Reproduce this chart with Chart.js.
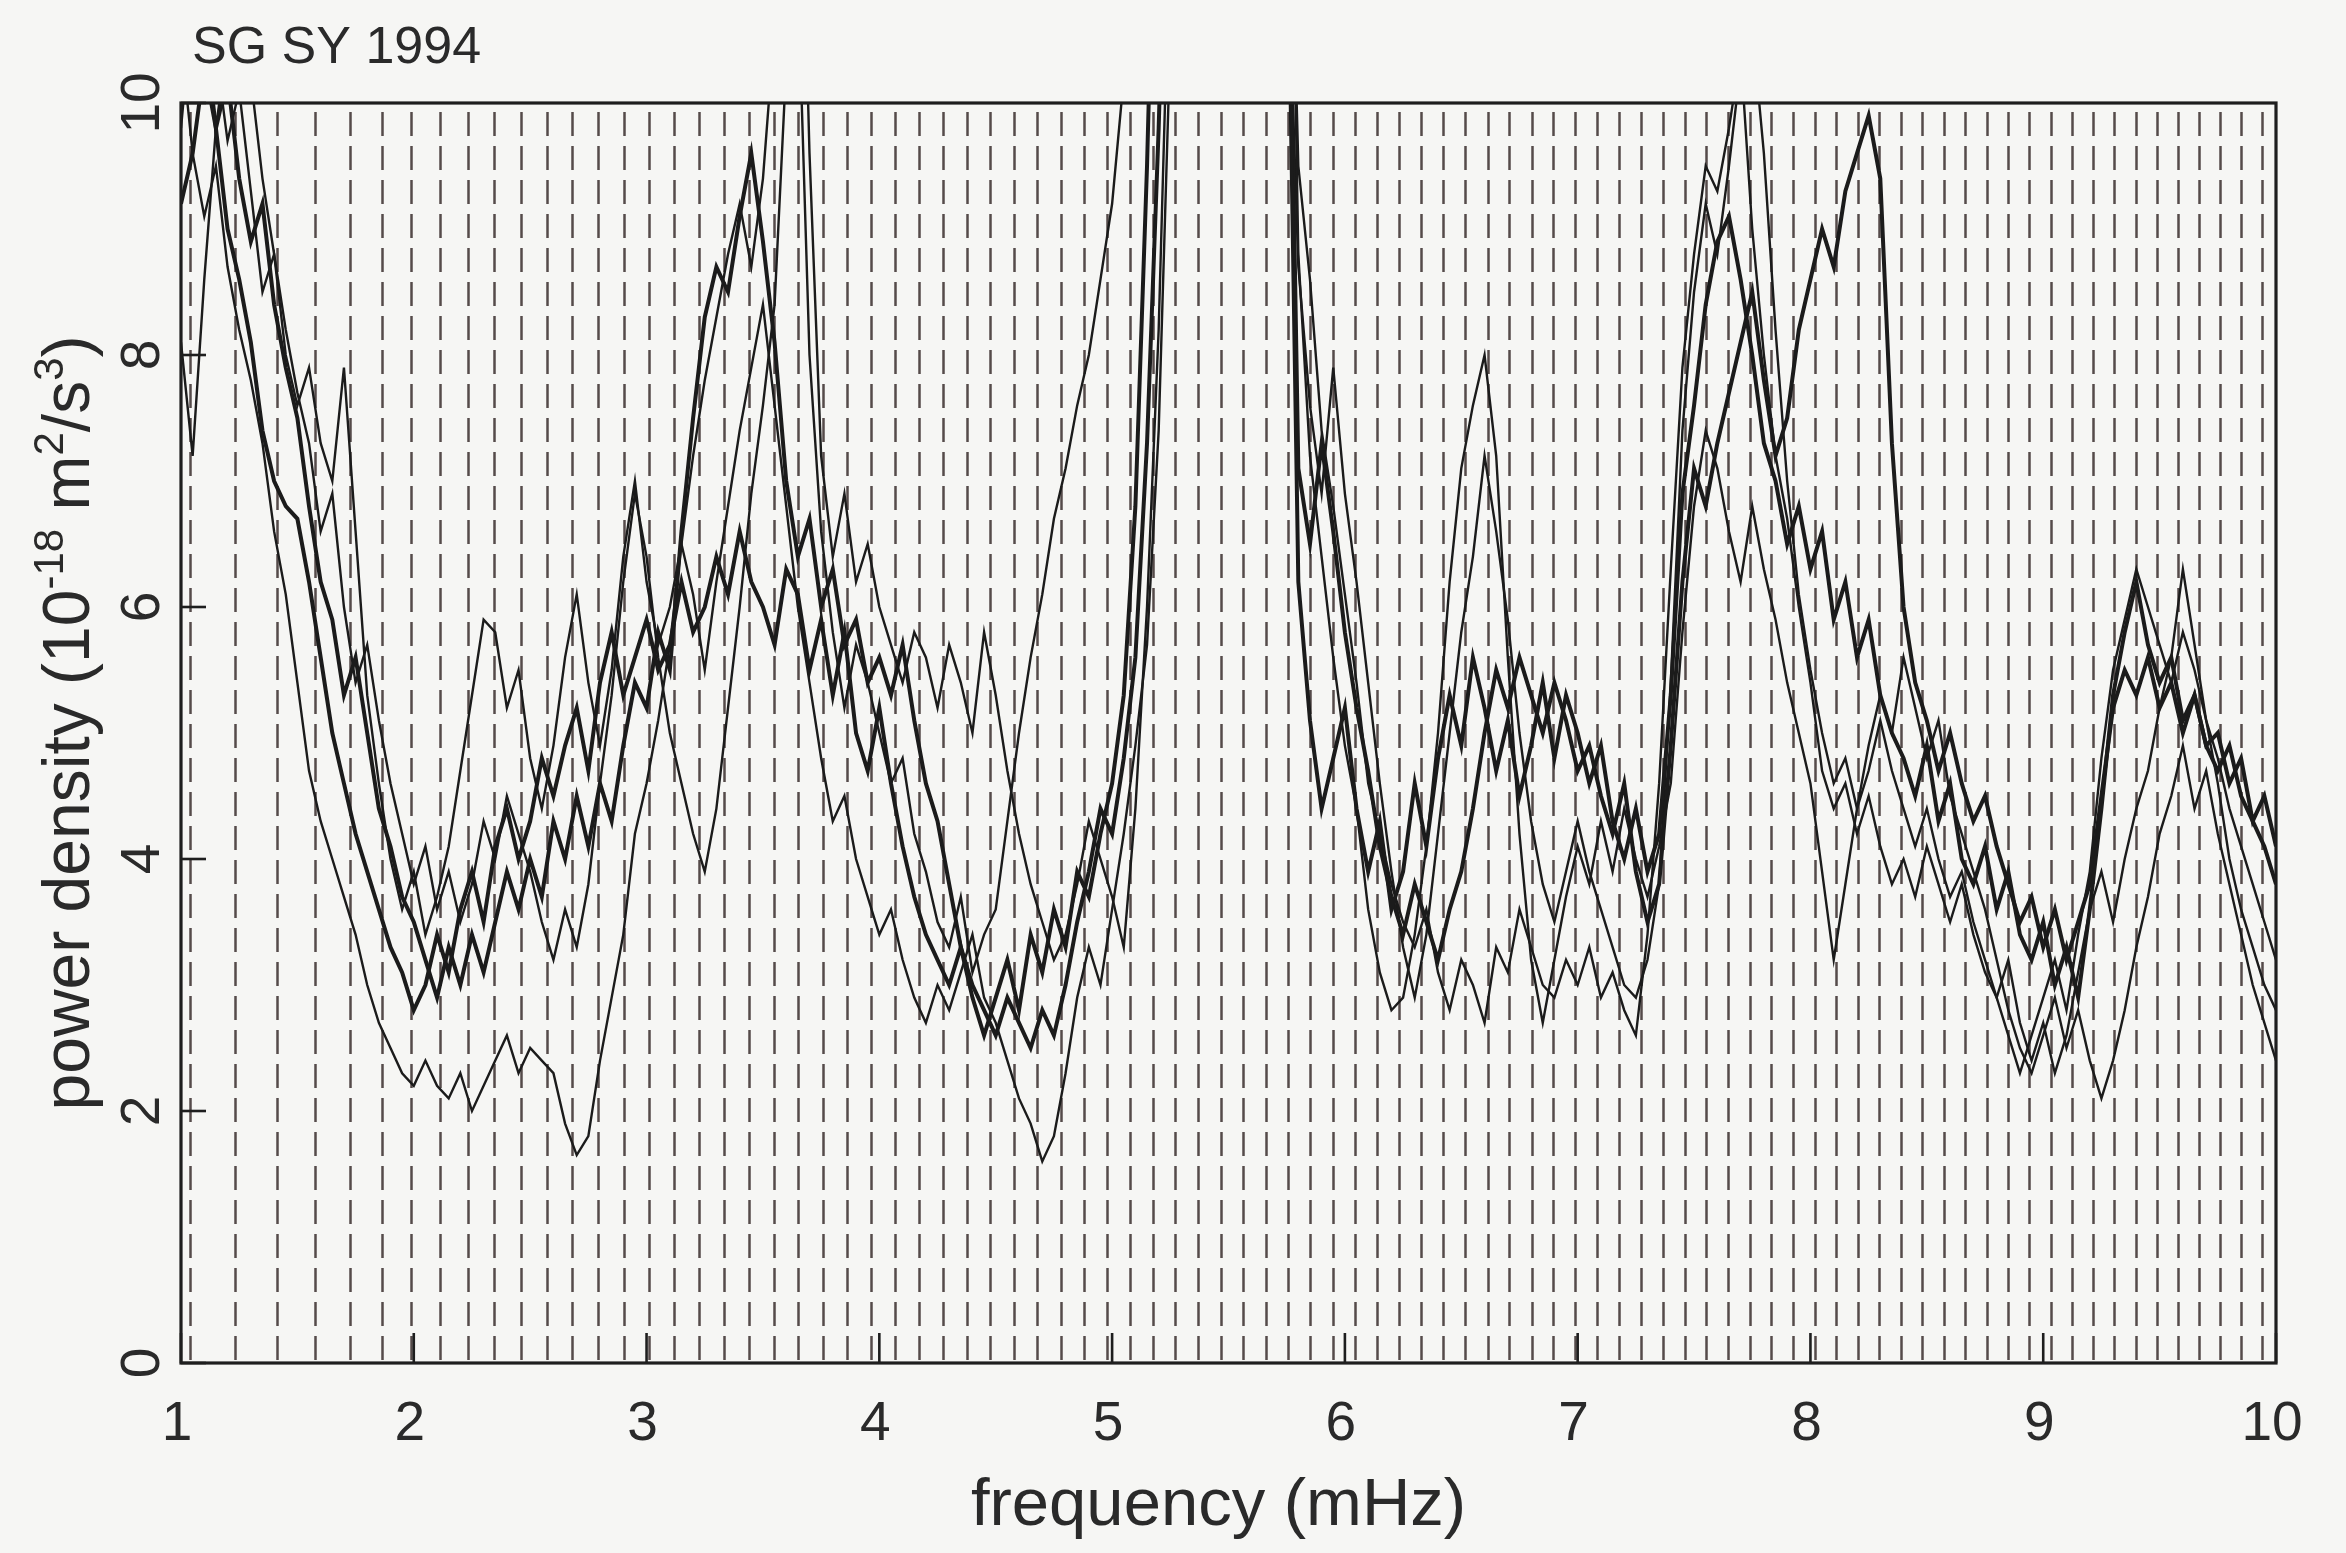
<!DOCTYPE html>
<html>
<head>
<meta charset="utf-8">
<script src="https://cdn.jsdelivr.net/npm/chart.js@4.4.1/dist/chart.umd.min.js"></script>
<style>
html,body{margin:0;padding:0;background:#f6f6f4;}
canvas{display:block;}
</style>
</head>
<body>
<canvas id="c" width="2346" height="1553"></canvas>
<script>
const chartTitle = "SG SY 1994";
const xTitle = "frequency (mHz)";
const xTicks = [1,2,3,4,5,6,7,8,9,10];
const yTicks = [0,2,4,6,8,10];

const freqs = [
1.00,1.05,1.10,1.15,1.20,1.25,1.30,1.35,1.40,1.45,
1.50,1.55,1.60,1.65,1.70,1.75,1.80,1.85,1.90,1.95,
2.00,2.05,2.10,2.15,2.20,2.25,2.30,2.35,2.40,2.45,
2.50,2.55,2.60,2.65,2.70,2.75,2.80,2.85,2.90,2.95,
3.00,3.05,3.10,3.15,3.20,3.25,3.30,3.35,3.40,3.45,
3.50,3.55,3.60,3.65,3.70,3.75,3.80,3.85,3.90,3.95,
4.00,4.05,4.10,4.15,4.20,4.25,4.30,4.35,4.40,4.45,
4.50,4.55,4.60,4.65,4.70,4.75,4.80,4.85,4.90,4.95,
5.00,5.05,5.10,5.15,5.20,5.25,5.30,5.35,5.40,5.45,
5.50,5.55,5.60,5.65,5.70,5.75,5.80,5.85,5.90,5.95,
6.00,6.05,6.10,6.15,6.20,6.25,6.30,6.35,6.40,6.45,
6.50,6.55,6.60,6.65,6.70,6.75,6.80,6.85,6.90,6.95,
7.00,7.05,7.10,7.15,7.20,7.25,7.30,7.35,7.40,7.45,
7.50,7.55,7.60,7.65,7.70,7.75,7.80,7.85,7.90,7.95,
8.00,8.05,8.10,8.15,8.20,8.25,8.30,8.35,8.40,8.45,
8.50,8.55,8.60,8.65,8.70,8.75,8.80,8.85,8.90,8.95,
9.00,9.05,9.10,9.15,9.20,9.25,9.30,9.35,9.40,9.45,
9.50,9.55,9.60,9.65,9.70,9.75,9.80,9.85,9.90,9.95,
10.00];

const seriesA = [
9.2,9.6,10.3,9.8,9.0,8.6,8.1,7.4,7.0,6.8,
6.7,6.2,5.6,5.0,4.6,4.2,3.9,3.6,3.3,3.1,
2.8,3.0,3.4,3.1,3.6,3.9,3.5,4.1,4.4,4.0,
4.3,4.8,4.5,4.9,5.2,4.7,5.4,5.8,5.3,5.6,
5.9,5.5,5.7,6.2,5.8,6.0,6.4,6.1,6.6,6.2,
6.0,5.7,6.3,6.1,5.5,5.9,5.3,5.8,5.0,4.7,
5.2,4.6,4.1,3.7,3.4,3.2,3.0,3.3,2.9,2.6,
2.9,3.2,2.8,3.4,3.1,3.6,3.3,3.9,3.7,4.2,
4.6,5.3,6.8,9.5,13,15,15,15,15,15,
15,15,15,15,15,12,6.2,5.1,4.4,4.8,
5.2,4.4,3.9,4.3,3.6,3.9,4.6,4.1,4.8,5.3,
4.9,5.6,5.2,4.7,5.1,4.5,4.9,5.4,4.8,5.3,
5.0,4.6,4.9,4.3,4.0,4.4,3.9,4.2,5.3,6.9,
7.6,8.4,8.9,9.1,8.6,8.0,7.3,7.0,6.5,6.8,
6.3,6.6,5.9,6.2,5.6,5.9,5.3,5.0,4.8,4.5,
4.9,4.3,4.6,4.0,3.8,4.1,3.6,3.9,3.4,3.2,
3.5,3.0,3.3,2.9,3.6,4.4,5.3,5.8,6.2,5.7,
5.4,5.6,5.1,5.3,4.9,5.0,4.6,4.8,4.3,4.5,
4.1];

const seriesB = [
8.1,7.2,8.6,9.8,10.5,11,10.2,9.4,8.8,8.0,
7.6,7.9,7.3,7.0,7.9,6.6,5.3,4.6,4.0,3.6,
3.9,3.4,3.7,4.1,4.7,5.3,5.9,5.8,5.2,5.5,
4.8,4.4,4.9,5.6,6.1,5.4,4.9,5.5,6.4,7.0,
6.2,5.7,6.0,6.5,7.2,7.8,8.3,8.8,9.2,8.7,
9.4,10.6,13,11,8.0,6.6,5.8,5.2,5.7,5.4,
5.0,4.6,4.8,4.2,3.9,3.5,3.3,3.7,3.1,3.4,
3.6,4.3,5.0,5.6,6.1,6.7,7.1,7.6,8.0,8.6,
9.2,10.2,12,14,15,15,15,15,15,15,
15,15,15,15,15,13,9.5,8.6,7.4,6.8,
6.1,5.4,4.6,4.2,3.8,3.5,3.3,3.6,3.1,2.8,
3.2,3.0,2.7,3.3,3.1,3.6,3.3,3.0,2.9,3.2,
3.0,3.3,2.9,3.1,2.8,2.6,3.4,4.6,6.3,7.9,
8.8,9.5,9.3,9.8,10.4,9.0,8.0,7.2,6.7,6.0,
5.4,4.7,4.4,4.6,4.2,4.5,4.1,3.8,4.0,3.7,
4.1,3.8,3.5,3.8,3.4,3.1,2.9,3.2,2.7,2.4,
2.7,2.3,2.6,3.1,3.6,3.9,3.5,4.0,4.4,4.7,
5.2,5.6,6.3,5.7,5.1,4.6,4.0,3.6,3.3,3.0,
2.8];

const seriesC = [
10.5,9.6,9.1,9.5,8.7,8.2,7.8,7.3,6.6,6.1,
5.4,4.7,4.3,4.0,3.7,3.4,3.0,2.7,2.5,2.3,
2.2,2.4,2.2,2.1,2.3,2.0,2.2,2.4,2.6,2.3,
2.5,2.4,2.3,1.9,1.65,1.8,2.4,2.9,3.4,4.2,
4.6,5.1,5.7,6.5,6.1,5.5,6.2,6.8,7.4,7.9,
8.4,7.6,6.8,6.0,5.4,4.8,4.3,4.5,4.0,3.7,
3.4,3.6,3.2,2.9,2.7,3.0,2.8,3.1,3.4,2.9,
2.7,2.4,2.1,1.9,1.6,1.8,2.3,2.9,3.3,3.0,
3.6,4.2,4.9,5.7,7.4,10.5,14,15,15,15,
15,15,15,15,15,14,8.8,7.2,6.4,5.6,
4.9,4.4,3.6,3.1,2.8,2.9,3.4,4.1,5.0,6.2,
7.1,7.6,8.0,7.2,5.6,4.2,3.2,2.7,3.2,3.7,
4.1,3.8,4.3,3.9,4.4,4.0,3.7,4.1,4.6,5.8,
6.8,7.4,7.1,6.6,6.2,6.8,6.3,5.9,5.4,5.0,
4.6,3.9,3.2,3.8,4.4,4.9,5.3,5.0,5.6,5.2,
4.8,5.1,4.5,4.2,3.9,3.6,3.2,2.8,2.5,2.3,
2.6,2.9,2.5,2.8,2.4,2.1,2.4,2.8,3.3,3.7,
4.2,4.5,4.9,4.4,4.7,4.2,3.8,3.4,3.0,2.7,
2.4];

const seriesD = [
11,12,10.6,9.8,10.2,9.4,8.9,9.2,8.4,7.9,
7.5,6.8,6.2,5.9,5.3,5.6,5.0,4.4,4.1,3.7,
3.5,3.2,2.9,3.3,3.0,3.4,3.1,3.5,3.9,3.6,
4.0,3.7,4.3,4.0,4.5,4.1,4.6,4.3,4.9,5.4,
5.2,5.8,5.5,6.6,7.5,8.3,8.7,8.5,9.1,9.6,
8.9,8.1,7.0,6.4,6.7,6.0,6.3,5.7,5.9,5.4,
5.6,5.3,5.7,5.1,4.6,4.3,3.8,3.3,3.0,2.8,
2.6,2.9,2.7,2.5,2.8,2.6,3.0,3.5,3.9,4.4,
4.2,4.8,5.6,7.3,9.8,13,15,15,15,15,
15,15,15,15,15,12.5,7.1,6.5,7.3,6.6,
5.8,5.2,4.7,4.1,3.7,3.4,3.8,3.5,3.2,3.6,
3.9,4.4,5.0,5.5,5.2,5.6,5.3,5.0,5.4,5.1,
4.7,4.9,4.5,4.2,4.6,3.9,3.5,3.8,4.9,6.2,
7.1,6.8,7.3,7.7,8.1,8.5,7.8,7.2,7.5,8.2,
8.6,9.0,8.7,9.3,9.6,9.9,9.4,7.3,6.0,5.4,
5.1,4.7,5.0,4.6,4.3,4.5,4.1,3.8,3.5,3.7,
3.3,3.6,3.2,3.5,3.8,4.5,5.2,5.5,5.3,5.6,
5.2,5.4,5.0,5.3,4.9,4.7,4.9,4.5,4.3,4.1,
3.8];

const seriesE = [
9.8,10.8,11.5,10.4,9.7,10.1,9.3,8.5,8.8,8.2,
7.7,7.3,6.6,6.9,6.0,5.4,5.7,5.1,4.6,4.2,
3.8,4.1,3.6,3.9,3.5,3.8,4.3,4.0,4.5,4.2,
3.9,3.5,3.2,3.6,3.3,3.8,4.6,5.3,6.2,6.9,
6.4,5.6,5.0,4.6,4.2,3.9,4.4,5.2,6.0,6.9,
7.6,8.4,10.3,13,9.6,7.2,6.4,6.9,6.2,6.5,
6.0,5.7,5.4,5.8,5.6,5.2,5.7,5.4,5.0,5.8,
5.3,4.7,4.2,3.8,3.5,3.2,3.4,3.8,4.3,4.0,
3.7,3.3,4.4,6.0,8.2,11.5,15,15,15,15,
15,15,15,15,15,11.5,8.7,7.6,6.9,7.9,
6.9,6.2,5.4,4.6,3.9,3.3,2.9,3.4,4.2,5.0,
5.8,6.4,7.2,6.6,5.9,5.0,4.3,3.8,3.5,3.9,
4.3,3.9,3.6,3.3,3.0,2.9,3.2,3.8,5.4,7.4,
8.5,9.2,8.8,9.5,10.3,10.6,9.6,8.2,7.0,6.1,
5.5,5.0,4.6,4.8,4.4,4.7,5.1,4.7,4.4,4.1,
4.4,4.0,3.7,3.9,3.5,3.2,2.9,2.6,2.3,2.6,
2.9,3.2,2.8,3.4,3.9,4.8,5.5,5.9,6.3,6.0,
5.7,5.4,5.8,5.5,5.1,4.8,4.4,4.1,3.8,3.5,
3.2];

// fundamental-mode frequencies marked by the dashed lines (mHz)
const modeFreqs = [1.038,1.232,1.413,1.577,1.725,1.862,1.990,2.113,2.231,2.346,2.459,2.571,2.681,2.791,2.901,3.011,3.119,3.226,3.333,3.441,3.547,3.652,3.758,3.862,3.966,4.069,4.172,4.274,4.376,4.477,4.578,4.679,4.779,4.878,4.977,5.076,5.174,5.272,5.370,5.467,5.564,5.660,5.756,5.852,5.947,6.043,6.138,6.233,6.328,6.423,6.518,6.613,6.707,6.802,6.896,6.990,7.084,7.178,7.272,7.366,7.459,7.553,7.646,7.739,7.832,7.925,8.018,8.111,8.204,8.296,8.389,8.481,8.573,8.665,8.757,8.849,8.941,9.032,9.124,9.215,9.306,9.397,9.488,9.579,9.670,9.760,9.851,9.941];

const seriesList = [seriesA, seriesB, seriesC, seriesD, seriesE];
const seriesWidths = [4.0, 2.4, 2.4, 4.0, 2.4];

const FONT = "'Liberation Sans', Arial, Helvetica, sans-serif";

const frame = {
  id: 'frame',
  beforeDatasetsDraw(chart) {
    const {ctx, chartArea: a, scales: {x}} = chart;
    ctx.save();
    ctx.strokeStyle = '#554b4a';
    ctx.lineWidth = 2.5;
    ctx.setLineDash([24, 10]);
    modeFreqs.forEach(f => {
      const px = Math.round(x.getPixelForValue(f)) + 0.5;
      ctx.beginPath();
      ctx.moveTo(px, a.top + 9);
      ctx.lineTo(px, a.bottom);
      ctx.stroke();
    });
    ctx.restore();
  },
  afterDatasetsDraw(chart) {
    const {ctx, chartArea: a, scales: {x, y}} = chart;
    ctx.save();
    ctx.strokeStyle = '#1e1e1e';
    ctx.lineWidth = 3.2;
    ctx.setLineDash([]);
    ctx.strokeRect(a.left, a.top, a.right - a.left, a.bottom - a.top);
    // inward ticks
    ctx.lineWidth = 2.6;
    xTicks.forEach(v => {
      const px = x.getPixelForValue(v);
      ctx.beginPath(); ctx.moveTo(px, a.bottom); ctx.lineTo(px, a.bottom - 30); ctx.stroke();
    });
    yTicks.forEach(v => {
      const py = y.getPixelForValue(v);
      ctx.beginPath(); ctx.moveTo(a.left, py); ctx.lineTo(a.left + 25, py); ctx.stroke();
    });
    ctx.fillStyle = '#2a2a2a';
    // x tick labels
    ctx.font = '55px ' + FONT;
    ctx.textAlign = 'center';
    ctx.textBaseline = 'alphabetic';
    xTicks.forEach(v => {
      ctx.fillText(String(v), x.getPixelForValue(v) - 4, a.bottom + 77);
    });
    // y tick labels (rotated)
    yTicks.forEach(v => {
      ctx.save();
      ctx.translate(a.left - 22, y.getPixelForValue(v));
      ctx.rotate(-Math.PI / 2);
      ctx.textAlign = 'center';
      ctx.textBaseline = 'alphabetic';
      ctx.fillText(String(v), 0, 0);
      ctx.restore();
    });
    // x title
    ctx.font = '67px ' + FONT;
    ctx.textAlign = 'center';
    ctx.fillText(xTitle, (a.left + a.right) / 2 - 10, a.bottom + 162);
    // y title with superscripts
    const segs = [
      ['power density (10', false], ['-18', true], [' m', false], ['2', true],
      ['/s', false], ['3', true], [')', false]
    ];
    const mainF = '66px ' + FONT, supF = '42px ' + FONT;
    let total = 0;
    segs.forEach(([t, s]) => { ctx.font = s ? supF : mainF; total += ctx.measureText(t).width; });
    ctx.save();
    ctx.translate(a.left - 92, (a.top + a.bottom) / 2 - 10);
    ctx.rotate(-Math.PI / 2);
    ctx.textAlign = 'left';
    let cx = -total / 2;
    segs.forEach(([t, s]) => {
      ctx.font = s ? supF : mainF;
      ctx.fillText(t, cx, s ? -26 : 0);
      cx += ctx.measureText(t).width;
    });
    ctx.restore();
    // chart title
    ctx.font = '52px ' + FONT;
    ctx.textAlign = 'left';
    ctx.fillText(chartTitle, a.left + 11, 63);
    ctx.restore();
  }
};

const datasets = seriesList.map((vals, k) => ({
  label: 'record ' + (k + 1),
  data: vals.map((v, i) => ({x: freqs[i], y: v})),
  borderColor: '#1b1b1b',
  borderWidth: seriesWidths[k],
  pointRadius: 0,
  tension: 0,
  fill: false
}));

new Chart(document.getElementById('c'), {
  type: 'line',
  data: {datasets},
  options: {
    responsive: false,
    animation: false,
    devicePixelRatio: 1,
    layout: {padding: {left: 181, right: 70, top: 103, bottom: 190}},
    scales: {
      x: {type: 'linear', min: 1, max: 10, display: false},
      y: {type: 'linear', min: 0, max: 10, display: false}
    },
    plugins: {legend: {display: false}, tooltip: {enabled: false}},
    elements: {point: {radius: 0}}
  },
  plugins: [frame]
});
</script>
</body>
</html>
